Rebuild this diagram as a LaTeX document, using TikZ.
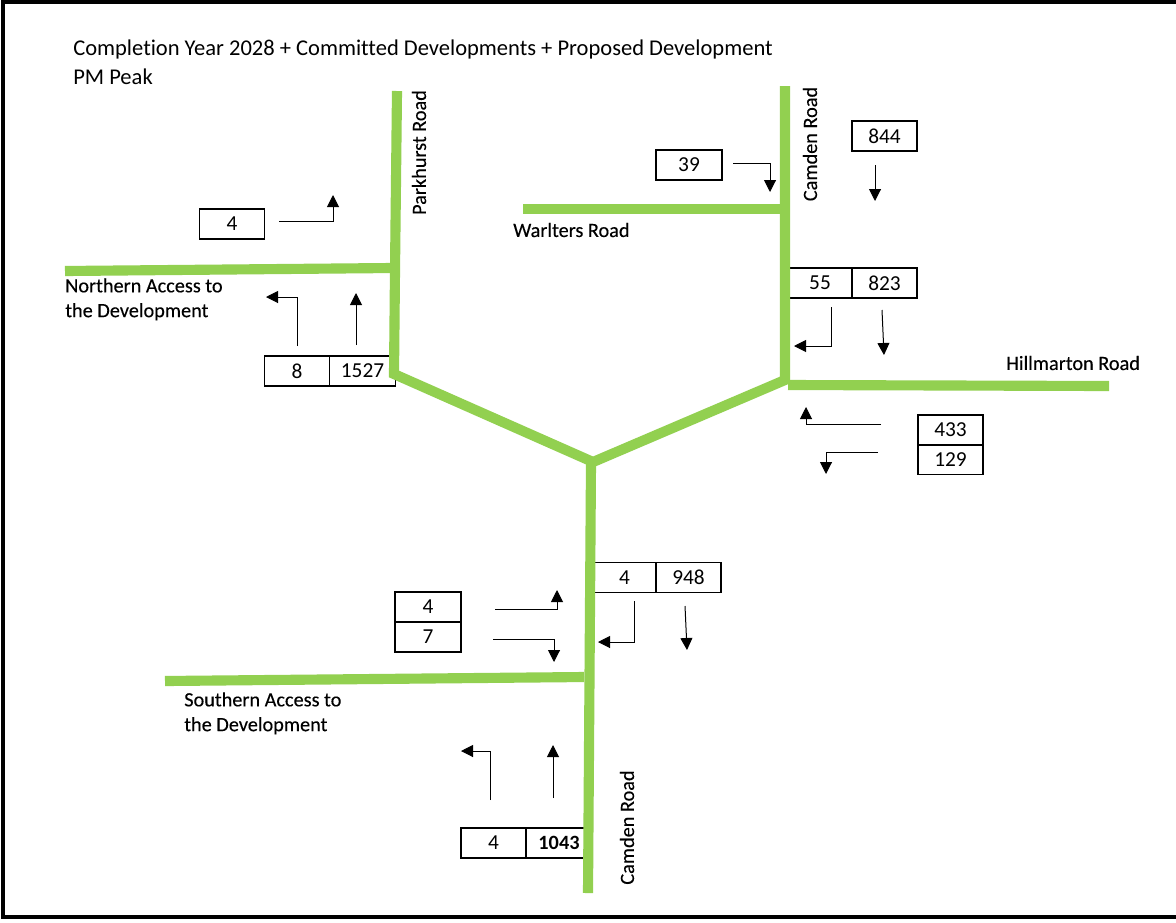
\documentclass[tikz,border=0pt]{standalone}
\usepackage{fontspec}
\setmainfont{Carlito}[Ligatures=NoCommon]
\newfontfamily\lblfont{Carlito}[Ligatures=NoCommon,FakeBold=0.25]
\usetikzlibrary{arrows.meta}
\definecolor{roadgreen}{HTML}{92D050}
\tikzset{
  road/.style={draw=roadgreen,line width=7.6pt,line join=miter},
  frameline/.style={draw=black,line width=3.2pt},
  count/.style={draw=black,line width=1pt,inner sep=0pt,font=\fontsize{16}{19}\selectfont,text=black,minimum height=22.5pt},
  flow/.style={draw=black,line width=0.75pt,-{Triangle[length=9pt,width=9pt]}},
  lbl/.style={inner sep=0pt,font=\lblfont\fontsize{15.2}{18.6}\selectfont,align=left},
  titletext/.style={inner sep=0pt,font=\fontsize{16.9}{20}\selectfont,anchor=base west}
}
\begin{document}
\begin{tikzpicture}[x=0.75pt,y=-0.75pt]
\useasboundingbox (0,0) rectangle (1176,922);
\coordinate (f1c) at (1176,2);
\coordinate (f2c) at (3,2);
\coordinate (f3c) at (3,917);
\coordinate (f4c) at (1176,917);
\draw[frameline] (f1c) -- (f2c) -- (f3c) -- (f4c);
% count boxes
\node[count,minimum width=48.75pt] (a) at (232,224) {4};
\node[count,minimum width=48.75pt] (b1) at (297,371) {8};
\node[count,minimum width=49.5pt] (b2) at (362.5,371) {1527};
\node[count,minimum width=49.5pt] (c) at (689,165) {39};
\node[count,minimum width=48.75pt] (d) at (884.5,136) {844};
\node[count,minimum width=48pt] (e1) at (820,283) {55};
\node[count,minimum width=48.75pt] (e2) at (884.5,283) {823};
\node[count,minimum width=48.75pt] (f1) at (950.5,430) {433};
\node[count,minimum width=48.75pt] (f2) at (950.5,459.5) {129};
\node[count,minimum width=47.25pt] (g1) at (624.5,577.5) {4};
\node[count,minimum width=48.75pt] (g2) at (688.5,577.5) {948};
\node[count,minimum width=49.5pt] (h1) at (428,607) {4};
\node[count,minimum width=49.5pt] (h2) at (428,637) {7};
\node[count,minimum width=48.75pt] (i1) at (493.5,843) {4};
\node[count,minimum width=45pt] (i2) at (556,843) {};
% road points
\coordinate (r1) at (397,91);
\coordinate (r2) at (395,270);
\coordinate (r3) at (394,374);
\coordinate (j) at (593,462);
\coordinate (r4) at (785,380);
\coordinate (r5) at (785,86);
\coordinate (r6) at (785,209);
\coordinate (r7) at (523,209);
\coordinate (r8) at (788,385);
\coordinate (r9) at (1109,386);
\coordinate (r10) at (591,462);
\coordinate (r11) at (588,893);
\coordinate (r12) at (165,681);
\coordinate (r13) at (584,677);
\coordinate (r14) at (65,271);
\coordinate (r15) at (392,268);
\draw[road] (r1) -- (r2) -- (r3) -- (j) -- (r4) -- (r5);
\draw[road] (r7) -- (r6);
\draw[road] (r8) -- (r9);
\draw[road] (r10) -- (r11);
\draw[road] (r12) -- (r13);
\draw[road] (r14) -- (r15);
\node[inner sep=0pt,font=\fontsize{15.2}{18}\selectfont\bfseries] (i2t) at (559,843) {1043};
% arrows
\coordinate (p1) at (279,221); \coordinate (p2) at (333,221); \coordinate (p3) at (333,195);
\draw[flow] (p1) -- (p2) -- (p3);
\coordinate (p4) at (297,346); \coordinate (p5) at (297,297); \coordinate (p6) at (266,297);
\draw[flow] (p4) -- (p5) -- (p6);
\coordinate (p7) at (356,345); \coordinate (p8) at (356,293);
\draw[flow] (p7) -- (p8);
\coordinate (p9) at (733,163); \coordinate (p10) at (770,163); \coordinate (p11) at (770,192);
\draw[flow] (p9) -- (p10) -- (p11);
\coordinate (p12) at (875,165); \coordinate (p13) at (875,201);
\draw[flow] (p12) -- (p13);
\coordinate (p14) at (831,307); \coordinate (p15) at (831,346); \coordinate (p16) at (794,346);
\draw[flow] (p14) -- (p15) -- (p16);
\coordinate (p17) at (882,310); \coordinate (p18) at (884,355);
\draw[flow] (p17) -- (p18);
\coordinate (p19) at (881,424); \coordinate (p20) at (806,424); \coordinate (p21) at (806,407);
\draw[flow] (p19) -- (p20) -- (p21);
\coordinate (p22) at (878,452); \coordinate (p23) at (826,452); \coordinate (p24) at (826,474);
\draw[flow] (p22) -- (p23) -- (p24);
\coordinate (p25) at (495,609); \coordinate (p26) at (557,609); \coordinate (p27) at (557,590);
\draw[flow] (p25) -- (p26) -- (p27);
\coordinate (p28) at (493,639); \coordinate (p29) at (554,639); \coordinate (p30) at (554,662);
\draw[flow] (p28) -- (p29) -- (p30);
\coordinate (p31) at (634,601); \coordinate (p32) at (634,642); \coordinate (p33) at (598,642);
\draw[flow] (p31) -- (p32) -- (p33);
\coordinate (p34) at (685,606); \coordinate (p35) at (687,650);
\draw[flow] (p34) -- (p35);
\coordinate (p36) at (490,800); \coordinate (p37) at (490,751); \coordinate (p38) at (461,751);
\draw[flow] (p36) -- (p37) -- (p38);
\coordinate (p39) at (553,798); \coordinate (p40) at (553,745);
\draw[flow] (p39) -- (p40);
% labels
\node[titletext] (t1) at (73,55) {Completion Year 2028 + Committed Developments + Proposed Development};
\node[titletext] (t2) at (73,84) {PM Peak};
\node[lbl,rotate=90] (l1) at (419,152.5) {Parkhurst Road};
\node[lbl,rotate=90] (l2) at (810,144) {Camden Road};
\node[lbl,rotate=90] (l3) at (627,827.5) {Camden Road};
\node[lbl,anchor=west] (l4) at (513,230) {Warlters Road};
\node[lbl,anchor=west] (l5) at (1006,363) {Hillmarton Road};
\node[lbl,anchor=north west] (l6) at (65,278) {Northern Access to\\the Development};
\node[lbl,anchor=north west] (l7) at (184,692) {Southern Access to\\the Development};
\end{tikzpicture}
\end{document}
